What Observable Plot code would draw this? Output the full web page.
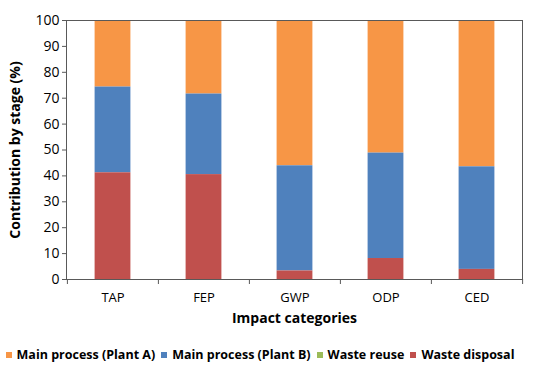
<!DOCTYPE html>
<html>
<head>
<meta charset="utf-8">
<script src="https://cdn.jsdelivr.net/npm/d3@7"></script>
<script src="https://cdn.jsdelivr.net/npm/@observablehq/plot@0.6"></script>
<style>
  html, body { margin: 0; padding: 0; background: #fff; }
  body { width: 550px; height: 380px; overflow: hidden; font-family: "Open Sans", sans-serif; }
  #legend { display: flex; justify-content: center; align-items: center; gap: 6px;
    font-weight: bold; font-size: 12.5px; color: #000; margin-top: 10px; white-space: nowrap;
    padding-right: 30px; }
  #legend .item { display: flex; align-items: center; gap: 5px; }
  #legend .sw { width: 6px; height: 6px; display: inline-block; }
</style>
</head>
<body>
<div id="chart"></div>
<div id="legend"></div>
<script>
const categories = ["TAP", "FEP", "GWP", "ODP", "CED"];
const seriesNames = ["Main process (Plant A)", "Main process (Plant B)", "Waste reuse", "Waste disposal"];
const seriesColors = ["#F79646", "#4F81BD", "#9BBB59", "#C0504D"];
const plantA = [25.7, 28.4, 56.1, 51.2, 56.5];
const plantB = [33.1, 31.1, 40.6, 40.7, 39.6];
const wasteReuse = [0, 0, 0, 0, 0];
const wasteDisposal = [41.2, 40.5, 3.3, 8.1, 3.9];
const yTicks = [0, 10, 20, 30, 40, 50, 60, 70, 80, 90, 100];

const seriesValues = [plantA, plantB, wasteReuse, wasteDisposal];
const stackOrder = ["Waste disposal", "Waste reuse", "Main process (Plant B)", "Main process (Plant A)"];
const rows = [];
seriesNames.forEach((s, si) => categories.forEach((c, ci) => rows.push({category: c, series: s, value: seriesValues[si][ci]})));

const W = 550, H = 336, mL = 66, mR = 28, mT = 20, mB = 57;
const band = (W - mL - mR) / categories.length;
const barW = 36;

const chart = Plot.plot({
  width: W, height: H,
  marginLeft: mL, marginRight: mR, marginTop: mT, marginBottom: mB,
  style: {fontFamily: "Open Sans, sans-serif", fontSize: "13px", color: "#000", background: "#fff", overflow: "visible"},
  x: {domain: categories, padding: 0, label: null},
  y: {domain: [0, 100], label: null},
  color: {domain: seriesNames, range: seriesColors},
  marks: [
    Plot.barY(rows, {x: "category", y: "value", fill: "series", order: stackOrder,
      insetLeft: (band - barW) / 2, insetRight: (band - barW) / 2}),
    Plot.frame({stroke: "#595959"}),
    Plot.axisY({ticks: yTicks, tickSize: 4, tickPadding: 3, stroke: "#595959", label: null, fontSize: 14}),
    Plot.axisX({tickSize: 0, tickPadding: 13, label: null, fontSize: 13}),
    Plot.ruleX(categories, {x: d => d, dx: -band / 2, y1: 0, y2: 0, insetBottom: -5, stroke: "#595959"}),
    Plot.ruleX(categories.slice(-1), {x: d => d, dx: band / 2, y1: 0, y2: 0, insetBottom: -5, stroke: "#595959"}),
    Plot.text(["Impact categories"], {frameAnchor: "bottom", text: d => d, lineAnchor: "middle", textAnchor: "middle", dy: 39, fontWeight: "bold", fontSize: 14}),
    Plot.text(["Contribution by stage (%)"], {frameAnchor: "left", text: d => d, rotate: -90, textAnchor: "middle", lineAnchor: "middle", dx: -51, fontWeight: "bold", fontSize: 14})
  ]
});
document.getElementById("chart").append(chart);

const legend = document.getElementById("legend");
seriesNames.forEach((s, i) => {
  const item = document.createElement("span");
  item.className = "item";
  const sw = document.createElement("span");
  sw.className = "sw";
  sw.style.background = seriesColors[i];
  item.append(sw, document.createTextNode(s));
  legend.append(item);
});
</script>
</body>
</html>
